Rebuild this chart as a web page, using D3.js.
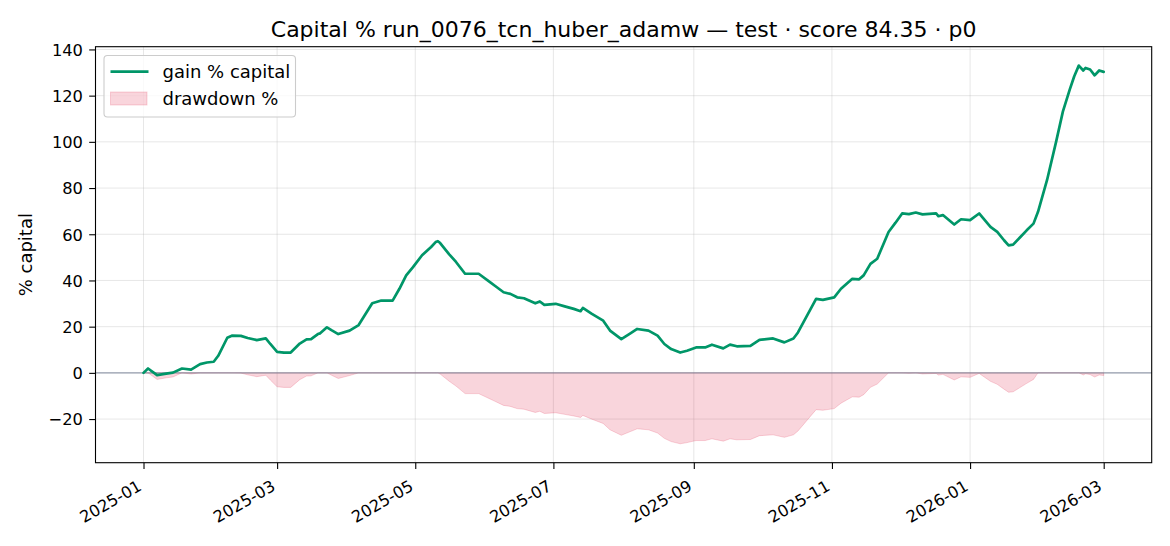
<!DOCTYPE html>
<html>
<head>
<meta charset="utf-8">
<script src="https://cdn.jsdelivr.net/npm/d3@7"></script>
<style>
  html, body { margin: 0; padding: 0; background: #fff; }
  svg { display: block; font-family: "DejaVu Sans", sans-serif; }
</style>
</head>
<body>
<svg id="chart" width="1170" height="546"></svg>
<script>
// ---- data ----
const dates = [
  "2025-01-01","2025-01-03","2025-01-07","2025-01-11","2025-01-14","2025-01-18","2025-01-22","2025-01-26","2025-01-29",
  "2025-02-01","2025-02-03","2025-02-07","2025-02-09","2025-02-13","2025-02-16","2025-02-20","2025-02-24","2025-02-26",
  "2025-03-01","2025-03-04","2025-03-07","2025-03-11","2025-03-14","2025-03-16","2025-03-19","2025-03-20","2025-03-23","2025-03-25","2025-03-28",
  "2025-04-02","2025-04-06","2025-04-12","2025-04-16","2025-04-21","2025-04-24","2025-04-27","2025-04-30",
  "2025-05-04","2025-05-08","2025-05-10","2025-05-11","2025-05-12","2025-05-16","2025-05-19","2025-05-23","2025-05-29",
  "2025-06-03","2025-06-05","2025-06-09","2025-06-12","2025-06-15","2025-06-18","2025-06-23","2025-06-25","2025-06-27",
  "2025-07-02","2025-07-06","2025-07-10","2025-07-13","2025-07-14","2025-07-18","2025-07-23","2025-07-26","2025-07-31",
  "2025-08-04","2025-08-07","2025-08-12","2025-08-16","2025-08-19","2025-08-22","2025-08-26","2025-08-29",
  "2025-09-02","2025-09-06","2025-09-09","2025-09-14","2025-09-17","2025-09-20","2025-09-26","2025-09-30",
  "2025-10-06","2025-10-11","2025-10-15","2025-10-17","2025-10-25","2025-10-28",
  "2025-11-02","2025-11-05","2025-11-10","2025-11-13","2025-11-15","2025-11-18","2025-11-21","2025-11-26","2025-11-29",
  "2025-12-02","2025-12-05","2025-12-08","2025-12-11","2025-12-17","2025-12-18","2025-12-20","2025-12-25","2025-12-28",
  "2026-01-01","2026-01-05","2026-01-10","2026-01-13","2026-01-16","2026-01-18","2026-01-20","2026-01-23","2026-01-26","2026-01-29","2026-01-31",
  "2026-02-04","2026-02-08","2026-02-11","2026-02-14","2026-02-16","2026-02-18","2026-02-20","2026-02-21","2026-02-23","2026-02-25","2026-02-27",
  "2026-03-01"
];
const gainPct = [
  0, 1.9, -1.0, -0.3, 0.1, 1.9, 1.4, 3.8, 4.5,
  4.8, 7.4, 15.2, 16.1, 16.0, 15.1, 14.2, 14.9, 12.5,
  9.1, 8.8, 8.8, 12.7, 14.5, 14.6, 16.8, 17.1, 19.7, 18.5, 16.8,
  18.3, 20.7, 30.1, 31.3, 31.3, 36.4, 42.2, 45.8,
  50.9, 54.5, 56.6, 57.0, 56.2, 51.3, 48.0, 42.9, 42.9,
  39.3, 37.8, 34.9, 34.2, 32.7, 32.3, 30.1, 30.9, 29.4,
  29.9, 28.8, 27.7, 26.7, 28.1, 25.5, 22.6, 18.3, 14.6,
  17.1, 19.0, 18.3, 16.1, 12.5, 10.3, 8.8, 9.6,
  11.0, 11.0, 12.2, 10.6, 12.2, 11.5, 11.7, 14.3,
  14.9, 13.2, 14.9, 17.5, 32.0, 31.6,
  32.7, 36.4, 40.7, 40.5, 42.2, 47.2, 49.4, 61.0, 64.9,
  69.0, 68.7, 69.4, 68.6, 69.0, 67.8, 68.3, 64.2, 66.5,
  66.1, 69.0, 63.2, 61.0, 57.4, 55.2, 55.5, 58.6, 61.7, 64.6, 69.7,
  83.5, 100.1, 113.2, 122.6, 128.4, 133.0, 130.9, 132.0, 131.3, 128.8, 130.9,
  130.3
];
const xTickLabels = ["2025-01","2025-03","2025-05","2025-07","2025-09","2025-11","2026-01","2026-03"];
const yTickValues = [-20, 0, 20, 40, 60, 80, 100, 120, 140];
const titleText = "Capital % run_0076_tcn_huber_adamw \u2014 test \u00b7 score 84.35 \u00b7 p0";
const yLabelText = "% capital";
const legendLabels = ["gain % capital", "drawdown %"];

// ---- derived ----
const parse = d3.utcParse("%Y-%m-%d");
const parseMonth = d3.utcParse("%Y-%m");
let peak = -Infinity;
const rows = dates.map((d, i) => {
  const g = gainPct[i];
  peak = Math.max(peak, g);
  const dd = ((1 + g / 100) / (1 + peak / 100) - 1) * 100;
  return { date: parse(d), gain: g, dd: dd };
});

// ---- layout ----
const FONT = "DejaVu Sans, sans-serif";
const L = 95.5, R = 1151.7, T = 46.7, B = 462.7;
const svg = d3.select("#chart");

const t0 = rows[0].date, t1 = rows[rows.length - 1].date;
const padMs = (t1 - t0) * 0.05;
const x = d3.scaleUtc().domain([new Date(+t0 - padMs), new Date(+t1 + padMs)]).range([L, R]);
const gMin = d3.min(rows, r => Math.min(r.gain, r.dd)), gMax = d3.max(rows, r => r.gain);
const yPad = (gMax - gMin) * 0.05;
const y = d3.scaleLinear().domain([gMin - yPad, gMax + yPad]).range([B, T]);

const xTicks = xTickLabels.map(s => parseMonth(s));

// grid
const grid = svg.append("g");
grid.selectAll(".gx").data(xTicks).enter().append("line")
  .attr("x1", d => x(d)).attr("x2", d => x(d)).attr("y1", T).attr("y2", B)
  .attr("stroke", "#b0b0b0").attr("stroke-opacity", 0.3).attr("stroke-width", 1);
grid.selectAll(".gy").data(yTickValues).enter().append("line")
  .attr("x1", L).attr("x2", R).attr("y1", d => y(d)).attr("y2", d => y(d))
  .attr("stroke", "#b0b0b0").attr("stroke-opacity", 0.3).attr("stroke-width", 1);

// drawdown area
const area = d3.area().x(d => x(d.date)).y0(y(0)).y1(d => y(d.dd));
svg.append("path").datum(rows).attr("d", area)
  .attr("fill", "#dc143c").attr("fill-opacity", 0.18)
  .attr("stroke", "#dc143c").attr("stroke-opacity", 0.18).attr("stroke-width", 1);

// zero line
svg.append("line").attr("x1", L).attr("x2", R).attr("y1", y(0)).attr("y2", y(0))
  .attr("stroke", "#7a8499").attr("stroke-opacity", 0.75).attr("stroke-width", 1.1);

// gain line
const line = d3.line().x(d => x(d.date)).y(d => y(d.gain));
svg.append("path").datum(rows).attr("d", line)
  .attr("fill", "none").attr("stroke", "#009668").attr("stroke-width", 2.7)
  .attr("stroke-linejoin", "round").attr("stroke-linecap", "round");

// axes
const tickFs = 16.25, labFs = 18, titleFs = 22;
const xAxis = d3.axisBottom(x).tickValues(xTicks).tickFormat((d, i) => xTickLabels[i]).tickSize(6.3).tickPadding(6.3);
const gx = svg.append("g").attr("transform", `translate(0,${B})`).call(xAxis)
  .attr("font-family", FONT).attr("font-size", tickFs);
gx.select(".domain").remove();
gx.selectAll("line").attr("stroke", "#000").attr("stroke-width", 1.1);
gx.selectAll("text").attr("font-size", tickFs).attr("font-family", FONT).attr("fill", "#000")
  .attr("text-anchor", "end").attr("dy", null).attr("y", null)
  .attr("transform", "translate(-1.2,26.7) rotate(-30)");

const yAxis = d3.axisLeft(y).tickValues(yTickValues).tickFormat(d => d < 0 ? "\u2212" + Math.abs(d) : d).tickSize(6.3).tickPadding(6.3);
const gy = svg.append("g").attr("transform", `translate(${L},0)`).call(yAxis)
  .attr("font-family", FONT).attr("font-size", tickFs);
gy.select(".domain").remove();
gy.selectAll("line").attr("stroke", "#000").attr("stroke-width", 1.1);
gy.selectAll("text").attr("font-size", tickFs).attr("font-family", FONT).attr("fill", "#000").attr("dy", "0.36em");

// frame
svg.append("rect").attr("x", L).attr("y", T).attr("width", R - L).attr("height", B - T)
  .attr("fill", "none").attr("stroke", "#000").attr("stroke-width", 1.1);

// title + y label
svg.append("text").attr("x", (L + R) / 2).attr("y", 36.5).attr("text-anchor", "middle")
  .attr("font-size", titleFs).attr("fill", "#000").text(titleText);
svg.append("text").attr("transform", `translate(32,${(T + B) / 2}) rotate(-90)`)
  .attr("text-anchor", "middle").attr("font-size", labFs).attr("fill", "#000").text(yLabelText);

// legend
const lg = svg.append("g");
lg.append("rect").attr("x", 104).attr("y", 55.5).attr("width", 191.5).attr("height", 61.5).attr("rx", 3.5)
  .attr("fill", "#fff").attr("fill-opacity", 0.8).attr("stroke", "#cccccc").attr("stroke-width", 1.1);
lg.append("line").attr("x1", 110.5).attr("x2", 148.5).attr("y1", 71.7).attr("y2", 71.7)
  .attr("stroke", "#009668").attr("stroke-width", 2.7);
lg.append("rect").attr("x", 110.5).attr("y", 92).attr("width", 36.5).attr("height", 13)
  .attr("fill", "#dc143c").attr("fill-opacity", 0.18).attr("stroke", "#dc143c").attr("stroke-opacity", 0.18);
lg.selectAll(".lt").data(legendLabels).enter().append("text")
  .attr("x", 162.5).attr("y", (d, i) => 77.8 + i * 26.7).attr("font-size", labFs).attr("fill", "#000").text(d => d);
</script>
</body>
</html>
